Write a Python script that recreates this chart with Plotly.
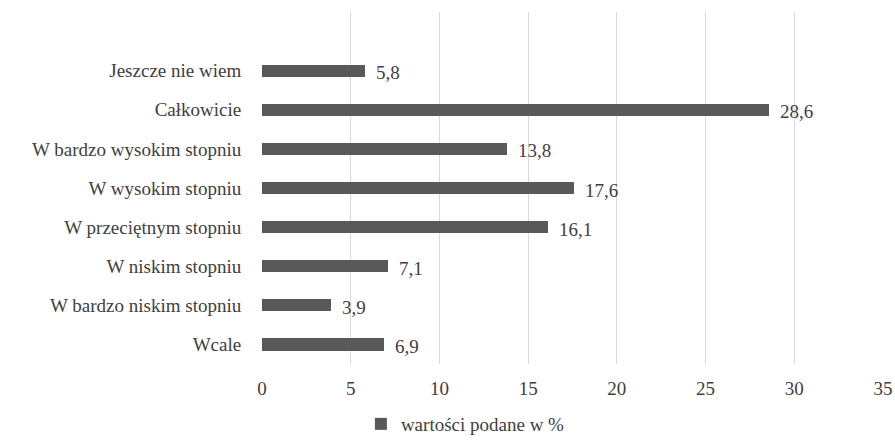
import plotly.graph_objects as go

# Survey answers (bottom to top as drawn on the category axis)
categories = [
    "Wcale",
    "W bardzo niskim stopniu",
    "W niskim stopniu",
    "W przeciętnym stopniu",
    "W wysokim stopniu",
    "W bardzo wysokim stopniu",
    "Całkowicie",
    "Jeszcze nie wiem",
]
values = [6.9, 3.9, 7.1, 16.1, 17.6, 13.8, 28.6, 5.8]
series_name = "wartości podane w %"
x_ticks = [0, 5, 10, 15, 20, 25, 30, 35]

labels = [f"{v:.1f}".replace(".", ",") for v in values]

font_family = "Liberation Serif, Times New Roman, serif"
font_size = 19
bar_color = "#595959"
text_color = "#404040"

fig = go.Figure(
    go.Bar(
        x=values,
        y=categories,
        orientation="h",
        name=series_name,
        marker=dict(color=bar_color, line=dict(width=0)),
        width=0.31,
        showlegend=True,
    )
)

# value labels just right of each bar end
for v, c, t in zip(values, categories, labels):
    fig.add_annotation(
        x=v, y=c, text=t, xref="x", yref="y",
        xanchor="left", yanchor="middle", xshift=9, yshift=-2,
        showarrow=False,
        font=dict(family=font_family, size=font_size, color=text_color),
    )

fig.update_layout(
    width=895,
    height=443,
    margin=dict(l=262, r=12, t=12, b=79, autoexpand=False),
    paper_bgcolor="white",
    plot_bgcolor="white",
    font=dict(family=font_family, size=font_size, color=text_color),
    bargap=0,
    xaxis=dict(
        range=[0, 35],
        tickvals=x_ticks,
        showgrid=True,
        gridcolor="#d9d9d9",
        gridwidth=1,
        zeroline=False,
        showline=False,
        ticks="outside",
        ticklen=7,
        tickcolor="rgba(0,0,0,0)",
        tickfont=dict(family=font_family, size=font_size, color=text_color),
        automargin=False,
    ),
    yaxis=dict(
        categoryorder="array",
        categoryarray=categories,
        range=[-0.5, 8.5],
        showgrid=False,
        zeroline=False,
        showline=False,
        ticks="outside",
        ticklen=16,
        tickcolor="rgba(0,0,0,0)",
        tickfont=dict(family=font_family, size=font_size, color=text_color),
        automargin=False,
    ),
    legend=dict(
        orientation="h",
        xref="container",
        yref="container",
        x=0.52,
        xanchor="center",
        y=0.0,
        yanchor="bottom",
        font=dict(family=font_family, size=font_size, color=text_color),
        itemwidth=30,
    ),
)

fig.write_html("out.html")
